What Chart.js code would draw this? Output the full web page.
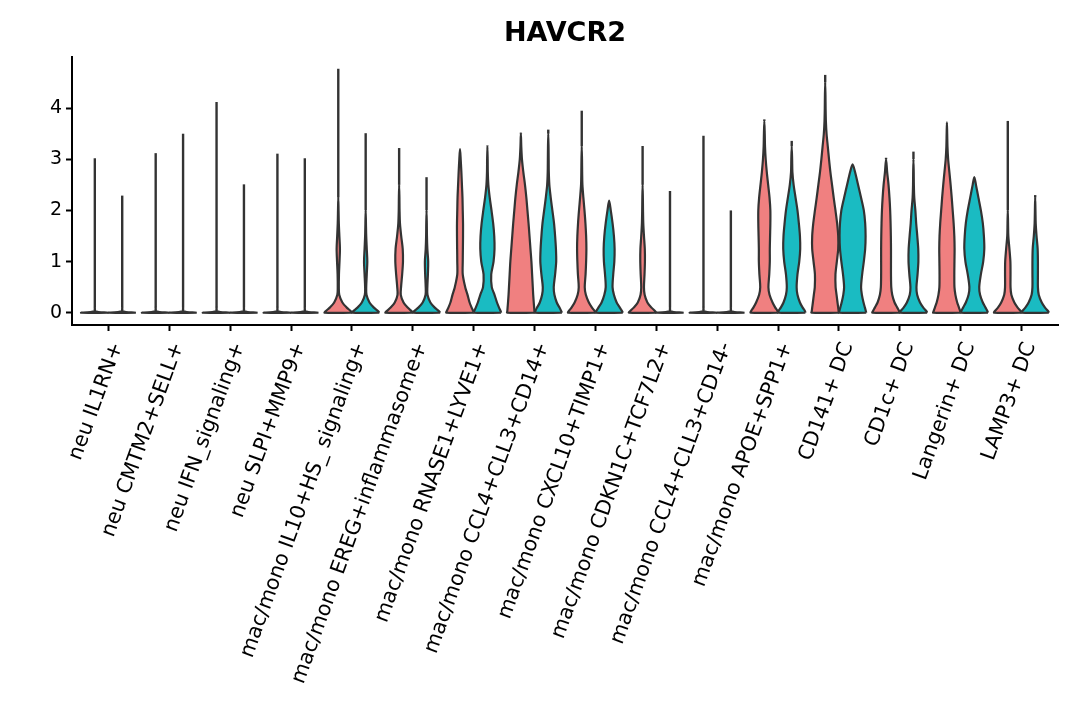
<!DOCTYPE html>
<html>
<head>
<meta charset="utf-8">
<title>HAVCR2</title>
<script src="https://cdn.jsdelivr.net/npm/chart.js@4.4.1/dist/chart.umd.min.js"></script>
<style>
  html, body { margin: 0; padding: 0; background: #fff; }
  #wrap { width: 1080px; height: 720px; position: relative; }
</style>
</head>
<body>
<div id="wrap"><canvas id="chart"></canvas></div>
<script>
/* ============================================================
   HAVCR2 split violin plot — two groups per cell type
   ============================================================ */

// ---- Categories (x axis) ------------------------------------
var categories = [
  'neu IL1RN+',
  'neu CMTM2+SELL+',
  'neu IFN_signaling+',
  'neu SLPI+MMP9+',
  'mac/mono IL10+HS_ signaling+',
  'mac/mono EREG+inflammasome+',
  'mac/mono RNASE1+LYVE1+',
  'mac/mono CCL4+CLL3+CD14+',
  'mac/mono CXCL10+TIMP1+',
  'mac/mono CDKN1C+TCF7L2+',
  'mac/mono CCL4+CLL3+CD14-',
  'mac/mono APOE+SPP1+',
  'CD141+ DC',
  'CD1c+ DC',
  'Langerin+ DC',
  'LAMP3+ DC'
];

var groups = ['group 1', 'group 2'];

// ---- Y axis ticks -------------------------------------------
var yTicks = [0, 1, 2, 3, 4];

// ---- Expression levels at which violin widths are read ------
var yGrid = [0, 0.03, 0.1, 0.2, 0.35, 0.5, 0.75, 1, 1.25, 1.5, 1.75, 2,
  2.25, 2.5, 2.75, 3, 3.25, 3.5, 3.75, 4, 4.25, 4.5];

// ---- Highest expression per violin (top of the tail) --------
var redMax = [3.02, 3.12, 4.12, 3.11, 4.77, 3.22, 3.20, 3.52,
  3.95, 3.26, 3.46, 3.78, 4.65, 3.03, 3.72, 3.75];
var tealMax = [2.29, 3.50, 2.51, 3.02, 3.51, 2.65, 3.27, 3.58,
  2.19, 2.38, 2.00, 3.36, 2.90, 3.15, 2.65, 2.30];

// ---- Relative density (1 = widest) at each yGrid level ------
// the body closes at the next grid level; above it only the tail
var redWidth = [
  [1, 0.02],
  [1, 0.02],
  [1, 0.02],
  [1, 0.02],
  [1, 0.92, 0.62, 0.3, 0.07, 0.04, 0.05, 0.09, 0.12, 0.08, 0.04, 0.02],
  [1, 0.92, 0.62, 0.32, 0.12, 0.14, 0.22, 0.28, 0.26, 0.15, 0.06, 0.03, 0.02],
  [1, 0.97, 0.85, 0.7, 0.55, 0.38, 0.2, 0.2, 0.21, 0.22, 0.22, 0.2, 0.18, 0.14, 0.1, 0.05],
  [1, 0.99, 0.97, 0.94, 0.9, 0.87, 0.82, 0.77, 0.7, 0.63, 0.56, 0.48, 0.4, 0.3, 0.18, 0.08, 0.03],
  [1, 0.95, 0.75, 0.52, 0.3, 0.22, 0.28, 0.32, 0.34, 0.32, 0.27, 0.2, 0.12, 0.05, 0.03, 0.02],
  [1, 0.92, 0.65, 0.35, 0.15, 0.1, 0.14, 0.17, 0.16, 0.1, 0.05, 0.03, 0.02],
  [1, 0.02],
  [1, 0.97, 0.8, 0.6, 0.38, 0.3, 0.36, 0.4, 0.4, 0.42, 0.44, 0.44, 0.38, 0.28, 0.18, 0.1, 0.05, 0.03],
  [1, 0.98, 0.95, 0.9, 0.83, 0.76, 0.75, 0.85, 0.95, 0.95, 0.87, 0.75, 0.62, 0.5, 0.38, 0.28, 0.19, 0.1, 0.05, 0.03, 0.02],
  [1, 0.96, 0.82, 0.62, 0.45, 0.38, 0.36, 0.36, 0.36, 0.35, 0.33, 0.3, 0.25, 0.18, 0.08],
  [1, 0.97, 0.88, 0.75, 0.62, 0.55, 0.54, 0.55, 0.56, 0.54, 0.49, 0.42, 0.35, 0.27, 0.18, 0.09, 0.04, 0.02],
  [1, 0.95, 0.72, 0.48, 0.26, 0.2, 0.2, 0.19, 0.12, 0.04, 0.02]
];
var tealWidth = [
  [1, 0.02],
  [1, 0.02],
  [1, 0.02],
  [1, 0.02],
  [1, 0.92, 0.6, 0.28, 0.06, 0.04, 0.08, 0.12, 0.08, 0.04, 0.02],
  [1, 0.92, 0.6, 0.28, 0.07, 0.06, 0.1, 0.12, 0.06, 0.03, 0.02],
  [1, 0.97, 0.85, 0.7, 0.52, 0.32, 0.28, 0.45, 0.52, 0.5, 0.42, 0.3, 0.17, 0.07, 0.03, 0.02],
  [1, 0.95, 0.82, 0.62, 0.45, 0.4, 0.5, 0.58, 0.56, 0.5, 0.42, 0.3, 0.18, 0.08, 0.04, 0.03, 0.02],
  [1, 0.95, 0.78, 0.55, 0.35, 0.25, 0.3, 0.38, 0.4, 0.35, 0.25, 0.12],
  [1, 0.02],
  [1, 0.02],
  [1, 0.97, 0.8, 0.6, 0.42, 0.36, 0.42, 0.55, 0.62, 0.6, 0.52, 0.42, 0.28, 0.14, 0.05, 0.03],
  [1, 0.97, 0.9, 0.8, 0.68, 0.62, 0.7, 0.82, 0.92, 0.95, 0.92, 0.82, 0.62, 0.4, 0.18],
  [1, 0.95, 0.72, 0.48, 0.27, 0.22, 0.3, 0.36, 0.35, 0.28, 0.2, 0.14, 0.06, 0.03, 0.02],
  [1, 0.96, 0.82, 0.62, 0.42, 0.36, 0.48, 0.65, 0.73, 0.7, 0.62, 0.48, 0.3, 0.12],
  [1, 0.95, 0.72, 0.48, 0.26, 0.2, 0.2, 0.2, 0.18, 0.1, 0.04, 0.02]
];

(function () {
  'use strict';

  var FONT = "'DejaVu Sans', 'Noto Sans', sans-serif";
  var RED = 'rgb(240, 128, 128)';
  var TEAL = 'rgb(26, 187, 194)';
  var OUTLINE = '#333333';

  // half of one violin's widest span, in category units
  var HALF = 0.225;

  // ---- Apex of the body: next grid level, capped at the max --
  function apexOf(widths, top) {
    var next = yGrid[widths.length];
    return (next === undefined || next > top) ? top : next;
  }

  // ---- Outline of one violin body as a closed polygon --------
  function violinPoints(center, widths, top) {
    var right = [];
    var left = [];
    var k;
    for (k = 0; k < widths.length; k++) {
      right.push({ x: center + widths[k] * HALF, y: yGrid[k] });
    }
    right.push({ x: center, y: apexOf(widths, top) });
    for (k = widths.length - 1; k >= 0; k--) {
      left.push({ x: center - widths[k] * HALF, y: yGrid[k] });
    }
    return right.concat(left, [right[0]]);
  }

  function bodyDataset(label, points, color) {
    return {
      label: label,
      data: points,
      showLine: true,
      fill: 'shape',
      backgroundColor: color,
      borderColor: OUTLINE,
      borderWidth: 2.2,
      borderJoinStyle: 'round',
      pointRadius: 0,
      tension: 0.3
    };
  }

  // ---- Thin tail from the body apex up to the max value ------
  function tailDataset(label, center, widths, top) {
    return {
      label: label,
      data: [{ x: center, y: apexOf(widths, top) }, { x: center, y: top }],
      showLine: true,
      fill: false,
      borderColor: OUTLINE,
      borderWidth: 2.4,
      borderCapStyle: 'butt',
      pointRadius: 0
    };
  }

  var datasets = [];
  for (var i = 0; i < categories.length; i++) {
    var pos = i + 1;
    var cRed = pos - HALF;
    var cTeal = pos + HALF;
    datasets.push(bodyDataset(groups[0], violinPoints(cRed, redWidth[i], redMax[i]), RED));
    datasets.push(tailDataset(groups[0], cRed, redWidth[i], redMax[i]));
    datasets.push(bodyDataset(groups[1], violinPoints(cTeal, tealWidth[i], tealMax[i]), TEAL));
    datasets.push(tailDataset(groups[1], cTeal, tealWidth[i], tealMax[i]));
  }

  Chart.defaults.font.family = FONT;
  Chart.defaults.color = '#000';

  var ctx = document.getElementById('chart').getContext('2d');
  new Chart(ctx, {
    type: 'scatter',
    data: { datasets: datasets },
    options: {
      responsive: true,
      maintainAspectRatio: false,
      devicePixelRatio: 1,
      animation: false,
      events: [],
      layout: { padding: { left: 0, right: 22, top: 0, bottom: 0 } },
      plugins: {
        legend: { display: false },
        tooltip: { enabled: false },
        title: {
          display: true,
          text: 'HAVCR2',
          fullSize: false,
          color: '#000',
          font: { family: FONT, size: 27, weight: 'bold' },
          padding: { top: 18, bottom: 6.6 }
        }
      },
      scales: {
        x: {
          type: 'linear',
          min: 0.4,
          max: categories.length + 0.6,
          afterBuildTicks: function (axis) {
            axis.ticks = categories.map(function (c, idx) { return { value: idx + 1 }; });
          },
          afterFit: function (axis) {
            axis.height = 395;
            axis.paddingLeft = 0;
            axis.paddingRight = 0;
          },
          grid: {
            drawOnChartArea: false,
            drawTicks: true,
            tickLength: 6,
            tickWidth: 2,
            tickColor: '#000'
          },
          border: { display: true, color: '#000', width: 2 },
          ticks: {
            autoSkip: false,
            minRotation: 70,
            maxRotation: 70,
            padding: 8,
            labelOffset: 9,
            color: '#000',
            font: { family: FONT, size: 20.7 },
            callback: function (value) { return categories[value - 1]; }
          }
        },
        y: {
          type: 'linear',
          min: -0.24,
          max: 5.0,
          afterBuildTicks: function (axis) {
            axis.ticks = yTicks.map(function (v) { return { value: v }; });
          },
          afterFit: function (axis) {
            axis.width = 72;
            axis.paddingTop = 0;
            axis.paddingBottom = 0;
          },
          grid: {
            drawOnChartArea: false,
            drawTicks: true,
            tickLength: 6,
            tickWidth: 2,
            tickColor: '#000'
          },
          border: { display: true, color: '#000', width: 2 },
          ticks: {
            padding: 4,
            color: '#000',
            font: { family: FONT, size: 19 }
          }
        }
      }
    }
  });
})();
</script>
</body>
</html>
